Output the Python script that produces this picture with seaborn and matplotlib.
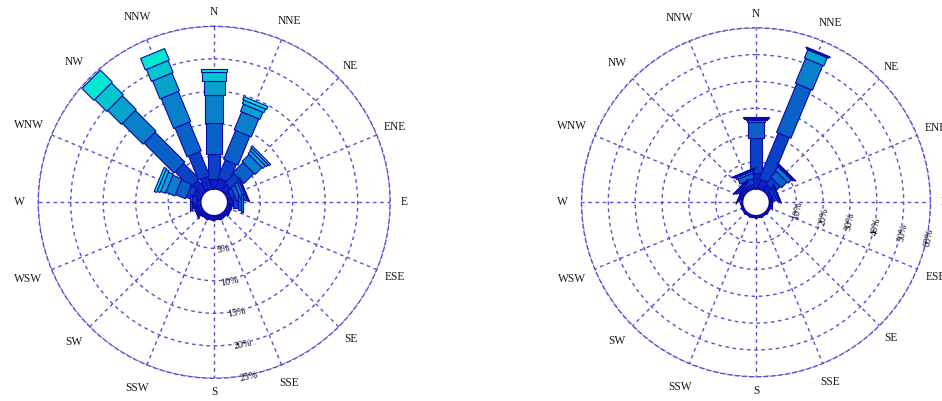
import numpy as np
import matplotlib
matplotlib.use("Agg")
import matplotlib.pyplot as plt
import seaborn as sns

# ---------------------------------------------------------------- data
directions = ["N", "NNE", "NE", "ENE", "E", "ESE", "SE", "SSE",
              "S", "SSW", "SW", "WSW", "W", "WNW", "NW", "NNW"]

# left rose: frequency (%) of each speed class, per direction
left_class1 = [1.5, 1.6, 1.2, 0.6, 0.8, 0.4, 0.3, 0.3, 0.3, 0.3, 0.3, 0.5, 0.8, 1.2, 2.1, 2.0]
left_class2 = [3.8, 3.0, 2.0, 0.6, 0.8, 0.2, 0.2, 0.2, 0.2, 0.2, 0.2, 0.3, 0.5, 1.0, 3.4, 4.0]
left_class3 = [4.8, 4.8, 2.2, 0.7, 0.5, 0.1, 0.1, 0.0, 0.0, 0.1, 0.1, 0.2, 0.3, 1.7, 6.5, 4.8]
left_class4 = [4.3, 3.0, 1.5, 0.5, 0.2, 0.0, 0.0, 0.0, 0.0, 0.0, 0.0, 0.1, 0.1, 1.5, 4.5, 5.0]
left_class5 = [2.2, 1.2, 0.6, 0.3, 0.1, 0.0, 0.0, 0.0, 0.0, 0.0, 0.0, 0.0, 0.0, 0.8, 3.0, 3.0]
left_class6 = [1.3, 0.6, 0.4, 0.2, 0.0, 0.0, 0.0, 0.0, 0.0, 0.0, 0.0, 0.0, 0.0, 0.5, 2.6, 2.0]
left_class7 = [0.6, 0.5, 0.3, 0.1, 0.0, 0.0, 0.0, 0.0, 0.0, 0.0, 0.0, 0.0, 0.0, 0.4, 2.6, 1.9]
left_ticks = [5, 10, 15, 20, 25]
left_tick_labels = ["5%", "10%", "15%", "20%", "25%"]

# right rose
right_class1 = [5.8, 3.6, 2.5, 1.2, 0.6, 0.4, 0.4, 0.4, 0.4, 0.4, 0.4, 0.4, 0.5, 0.8, 1.2, 1.5]
right_class2 = [13.0, 18.4, 3.0, 1.3, 0.3, 0.1, 0.1, 0.1, 0.1, 0.1, 0.1, 0.1, 0.2, 0.5, 1.0, 2.0]
right_class3 = [6.2, 19.6, 3.0, 0.7, 0.1, 0.0, 0.0, 0.0, 0.0, 0.0, 0.0, 0.0, 0.0, 0.2, 0.6, 2.0]
right_class4 = [0.6, 10.0, 1.7, 0.3, 0.0, 0.0, 0.0, 0.0, 0.0, 0.0, 0.0, 0.0, 0.0, 0.1, 0.2, 0.8]
right_class5 = [0.4, 3.3, 0.4, 0.1, 0.0, 0.0, 0.0, 0.0, 0.0, 0.0, 0.0, 0.0, 0.0, 0.0, 0.1, 0.3]
right_class6 = [0.3, 0.4, 0.3, 0.0, 0.0, 0.0, 0.0, 0.0, 0.0, 0.0, 0.0, 0.0, 0.0, 0.0, 0.0, 0.2]
right_class7 = [0.3, 0.3, 0.2, 0.0, 0.0, 0.0, 0.0, 0.0, 0.0, 0.0, 0.0, 0.0, 0.0, 0.0, 0.0, 0.2]
right_ticks = [10, 20, 30, 40, 50, 60]
right_tick_labels = ["10%", "20%", "30%", "40%", "50%", "60%"]

left_classes = [left_class1, left_class2, left_class3, left_class4,
                left_class5, left_class6, left_class7]
right_classes = [right_class1, right_class2, right_class3, right_class4,
                 right_class5, right_class6, right_class7]

# ---------------------------------------------------------------- style
sns.set_style("white")
SERIF = ["Liberation Serif", "DejaVu Serif"]
plt.rcParams["font.family"] = SERIF

colors = sns.blend_palette(["#0b22c4", "#0a80ca", "#00e8d2"], 7)
EDGE = "#0a0aa8"
GRID = "#5252d2"
TEXT = "#1a1a1a"
DASH = (0, (2.6, 2.6))
HOLE_PX = 13.5                                    # radius of the empty centre
BAR_PX = [8, 12, 15.5, 18.5, 21, 23.5, 26]        # bar width of each speed class


def draw_rose(ax, classes, ticks, tick_labels, radius_px, label_compass):
    rmax = ticks[-1]
    px = (radius_px - HOLE_PX) / rmax      # pixels per percent
    off = HOLE_PX / px                      # hole radius in percent units

    ax.set_theta_zero_location("N")
    ax.set_theta_direction(-1)
    ax.set_rorigin(-off)
    ax.set_ylim(0, rmax)
    ax.set_xticks(np.deg2rad(np.arange(16) * 22.5))
    ax.set_xticklabels([])
    ax.set_yticks(ticks)
    ax.set_yticklabels([])
    ax.tick_params(length=0)
    ax.set_axisbelow(True)
    ax.grid(True, color=GRID, linestyle=DASH, linewidth=1.0)
    ax.spines["polar"].set_color(GRID)
    ax.spines["polar"].set_linestyle(DASH)
    ax.spines["polar"].set_linewidth(1.0)
    ax.spines["inner"].set_color(EDGE)
    ax.spines["inner"].set_linewidth(1.2)
    ax.set_facecolor("white")

    freq = np.array(classes, dtype=float)
    top = np.cumsum(freq, axis=0)
    bottom = top - freq
    theta = np.deg2rad(np.arange(len(directions)) * 22.5)

    # straight-sided bars: each segment is a rectangle along its direction
    for j, th in enumerate(theta):
        for k in range(freq.shape[0]):
            if freq[k, j] <= 0:
                continue
            hw = BAR_PX[k] / 2 / px
            da = bottom[k, j] + off
            db = top[k, j] + off
            ta, tb = np.arctan(hw / da), np.arctan(hw / db)
            ra, rb = np.hypot(da, hw) - off, np.hypot(db, hw) - off
            ax.fill([th - ta, th - tb, th + tb, th + ta], [ra, rb, rb, ra],
                    facecolor=colors[k], edgecolor=EDGE, linewidth=0.8,
                    zorder=2 + k * 0.01)

    # compass labels
    for j, lbl in enumerate(directions):
        west = np.sin(theta[j]) < -0.1
        r_px = radius_px + 14 + 3 * (len(lbl) - 1) + (5 if west else 0)
        ax.text(theta[j], r_px / px - off, lbl, ha="center", va="center",
                fontsize=8.3, color=TEXT, clip_on=False)

    # percentage labels along one ray, tangent to the circles
    lab_th = np.deg2rad(label_compass)
    for t, s in zip(ticks, tick_labels):
        ax.text(lab_th, t + 2 / px, s, rotation=180 - label_compass,
                rotation_mode="anchor", ha="center", va="center",
                fontsize=7.2, color="black", clip_on=False, zorder=5)


W_PX, H_PX = 942, 401
fig = plt.figure(figsize=(W_PX / 100, H_PX / 100), dpi=100)
fig.patch.set_facecolor("white")


def polar_axes(cx, cy, radius):
    return fig.add_axes([(cx - radius) / W_PX, (H_PX - cy - radius) / H_PX,
                         2 * radius / W_PX, 2 * radius / H_PX],
                        projection="polar")


ax_left = polar_axes(214.2, 202.3, 176)
draw_rose(ax_left, left_classes, left_ticks, left_tick_labels, 176, 168.7)

ax_right = polar_axes(756.0, 202.3, 174.5)
draw_rose(ax_right, right_classes, right_ticks, right_tick_labels, 174.5, 101.5)

fig.savefig("out.png", dpi=100, facecolor="white")
